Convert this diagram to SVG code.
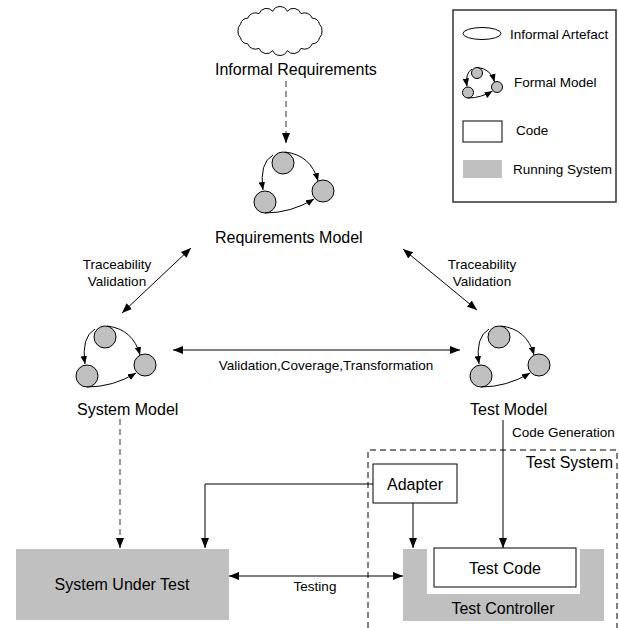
<svg xmlns="http://www.w3.org/2000/svg" xmlns:xlink="http://www.w3.org/1999/xlink" width="619" height="628" viewBox="0 0 619 628">
<style>
text{font-family:"Liberation Sans",Arial,sans-serif;fill:#000}
.big{font-size:16px}
.sm{font-size:13.5px}
.ln{stroke:#000;stroke-width:1;fill:none}
.dash{stroke:#7f7f7f;stroke-width:1.6;stroke-dasharray:6 4;fill:none}
.run{fill:#c0c0c0;stroke:none}
.code{fill:#fff;stroke:#000;stroke-width:1}
</style>
<defs>
<marker id="a" markerUnits="userSpaceOnUse" viewBox="0 0 10 8" markerWidth="10" markerHeight="8" refX="10" refY="4" orient="auto-start-reverse"><path d="M0,0 L10,4 L0,8 z" fill="#000"/></marker>
<marker id="m" viewBox="0 0 10 8" markerWidth="8" markerHeight="6.5" refX="10" refY="4" orient="auto"><path d="M0,0 L10,4 L0,8 z" fill="#000"/></marker>
<g id="fm" stroke="#000" fill="none">
<circle cx="0" cy="0" r="11" fill="#c0c0c0"/>
<circle cx="40" cy="28" r="11" fill="#c0c0c0"/>
<circle cx="-18" cy="39" r="11" fill="#c0c0c0"/>
<path d="M-10,-8 Q-24,0 -20,27" marker-end="url(#m)"/>
<path d="M2,-11 Q28,-8 35,18" marker-end="url(#m)"/>
<path d="M-18,50 Q8,50 31,36" marker-end="url(#m)"/>
</g>
</defs>

<g id="legend">
<rect x="453" y="10" width="163" height="192" fill="#fff" stroke="#333" stroke-width="1.5"/>
<ellipse cx="482" cy="33.5" rx="19" ry="6" fill="#fff" stroke="#000" stroke-width="1"/>
<text class="sm" x="510" y="39">Informal Artefact</text>
<use xlink:href="#fm" href="#fm" transform="translate(477,73) scale(0.5)" style="stroke-width:2"/>
<text class="sm" x="514" y="87">Formal Model</text>
<rect class="code" x="463" y="121" width="39" height="21"/>
<text class="sm" x="516" y="135">Code</text>
<rect class="run" x="463" y="160" width="39" height="18"/>
<text class="sm" x="513" y="174">Running System</text>
</g>

<g id="informal-requirements">
<path d="M322,31 A8,8 0 0 1 319.5,37.8 A8,8 0 0 1 312.2,43.9 A8,8 0 0 1 301,48.3 A8,8 0 0 1 287.3,50.7 A8,8 0 0 1 272.7,50.7 A8,8 0 0 1 259,48.3 A8,8 0 0 1 247.8,43.9 A8,8 0 0 1 240.5,37.8 A8,8 0 0 1 238,31 A8,8 0 0 1 240.5,24.2 A8,8 0 0 1 247.8,18.1 A8,8 0 0 1 259,13.7 A8,8 0 0 1 272.7,11.3 A8,8 0 0 1 287.3,11.3 A8,8 0 0 1 301,13.7 A8,8 0 0 1 312.2,18.1 A8,8 0 0 1 319.5,24.2 A8,8 0 0 1 322,31 Z" fill="#fff" stroke="#000" stroke-width="1"/>
<text class="big" x="215" y="75">Informal Requirements</text>
</g>

<g id="requirements-model">
<use xlink:href="#fm" href="#fm" transform="translate(283,163)" style="stroke-width:1"/>
<text class="big" x="215" y="243">Requirements Model</text>
</g>

<g id="system-model">
<use xlink:href="#fm" href="#fm" transform="translate(105,337)" style="stroke-width:1"/>
<text class="big" x="77" y="415">System Model</text>
</g>

<g id="test-model">
<use xlink:href="#fm" href="#fm" transform="translate(499,337)" style="stroke-width:1"/>
<text class="big" x="470" y="415">Test Model</text>
</g>

<g id="test-system">
<path d="M368,628 V450 H617 V628" fill="none" stroke="#000" stroke-width="1" stroke-dasharray="6 4"/>
<text class="big" x="613" y="468" text-anchor="end">Test System</text>
</g>

<g id="adapter">
<rect class="code" x="373" y="464" width="84" height="39"/>
<text class="big" x="415" y="490" text-anchor="middle">Adapter</text>
</g>

<g id="system-under-test">
<rect class="run" x="16" y="549" width="213" height="71"/>
<text class="big" x="122" y="590" text-anchor="middle">System Under Test</text>
</g>

<g id="test-controller">
<path class="run" d="M403,549 H427 V594 H580 V549 H604 V621 H403 Z"/>
<text class="big" x="503" y="614" text-anchor="middle">Test Controller</text>
</g>

<g id="test-code">
<rect class="code" x="434" y="548" width="142" height="39"/>
<text class="big" x="505" y="574" text-anchor="middle">Test Code</text>
</g>

<g id="connectors">
<path class="dash" d="M286,81 V135"/>
<path class="ln" d="M286,134 V143" marker-end="url(#a)"/>
<path class="ln" d="M122,313 L191,248" marker-start="url(#a)" marker-end="url(#a)"/>
<text class="sm" x="117" y="269" text-anchor="middle">Traceability</text>
<text class="sm" x="117" y="286" text-anchor="middle">Validation</text>
<path class="ln" d="M403,249 L477,310" marker-start="url(#a)" marker-end="url(#a)"/>
<text class="sm" x="482" y="269" text-anchor="middle">Traceability</text>
<text class="sm" x="482" y="286" text-anchor="middle">Validation</text>
<path class="ln" d="M173,350 H460" marker-start="url(#a)" marker-end="url(#a)"/>
<text class="sm" x="326" y="370" text-anchor="middle">Validation,Coverage,Transformation</text>
<path class="dash" d="M120,419 V540"/>
<path class="ln" d="M120,539 V548" marker-end="url(#a)"/>
<path class="ln" d="M503,420 V548" marker-end="url(#a)"/>
<text class="sm" x="512" y="437">Code Generation</text>
<path class="ln" d="M373,484 H205 V548" marker-end="url(#a)"/>
<path class="ln" d="M413,503 V548" marker-end="url(#a)"/>
<path class="ln" d="M229,576 H403" marker-start="url(#a)" marker-end="url(#a)"/>
<text class="sm" x="315" y="591" text-anchor="middle">Testing</text>
</g>
</svg>
